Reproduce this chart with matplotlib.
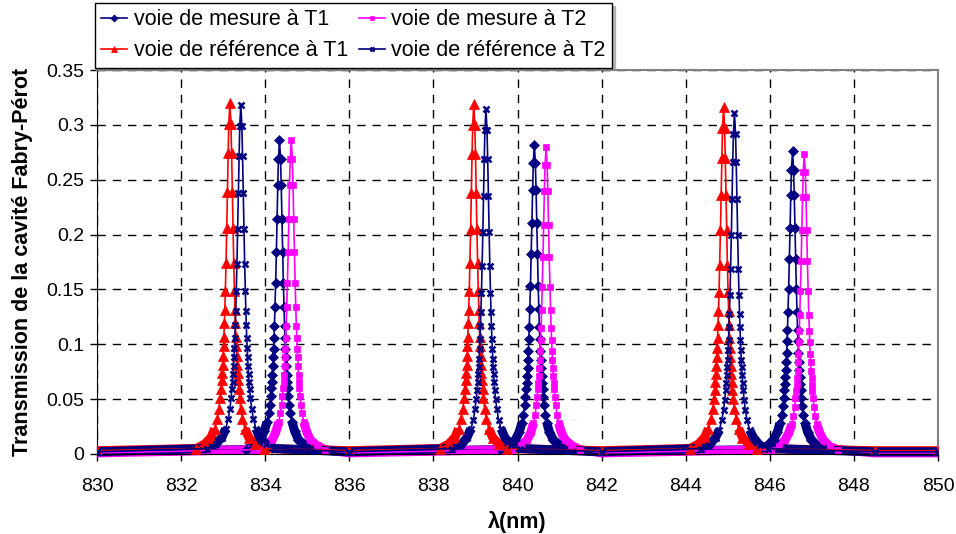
import matplotlib
matplotlib.use("Agg")
import matplotlib.pyplot as plt
import numpy as np
from matplotlib.ticker import FuncFormatter

plt.rcParams["font.family"] = ["Liberation Sans", "DejaVu Sans"]

OFFSETS = [0.0, 0.025, 0.041, 0.058, 0.074, 0.092, 0.107, 0.12, 0.13, 0.141, 0.151, 0.161,
           0.172, 0.183, 0.195, 0.21, 0.23, 0.26, 0.3, 0.36, 0.45, 0.6, 0.8]

# flat regions between resonances
BASE_X = [830.0, 836.0, 842.0, 848.5, 850.0]

# voie de mesure a T1 (navy diamonds): centre -> tail, mirrored on both sides
MES_T1_CENTERS = [834.34, 840.40, 846.54]
MES_T1_PEAKS = [
    [0.286, 0.269, 0.245, 0.214, 0.184, 0.156, 0.134, 0.117, 0.106, 0.096, 0.088, 0.080,
     0.072, 0.066, 0.060, 0.053, 0.045, 0.037, 0.029, 0.021, 0.013, 0.008, 0.004],
    [0.282, 0.265, 0.241, 0.211, 0.182, 0.153, 0.132, 0.116, 0.105, 0.094, 0.086, 0.078,
     0.071, 0.065, 0.059, 0.052, 0.045, 0.036, 0.028, 0.020, 0.013, 0.008, 0.004],
    [0.276, 0.259, 0.236, 0.206, 0.178, 0.150, 0.129, 0.113, 0.103, 0.092, 0.084, 0.077,
     0.070, 0.064, 0.058, 0.051, 0.044, 0.036, 0.028, 0.020, 0.013, 0.007, 0.004],
]
MES_T1_BASE = [0.002, 0.002, 0.002, 0.002, 0.002]

# voie de mesure a T2 (magenta squares)
MES_T2_CENTERS = [834.62, 840.68, 846.82]
MES_T2_PEAKS = [
    [0.286, 0.269, 0.245, 0.214, 0.184, 0.156, 0.134, 0.117, 0.106, 0.096, 0.088, 0.080,
     0.072, 0.066, 0.060, 0.053, 0.045, 0.037, 0.029, 0.021, 0.013, 0.008, 0.004],
    [0.280, 0.263, 0.240, 0.209, 0.180, 0.152, 0.131, 0.115, 0.104, 0.094, 0.086, 0.078,
     0.071, 0.065, 0.059, 0.052, 0.045, 0.036, 0.028, 0.020, 0.013, 0.008, 0.004],
    [0.273, 0.257, 0.234, 0.204, 0.176, 0.149, 0.127, 0.112, 0.102, 0.091, 0.084, 0.076,
     0.069, 0.063, 0.057, 0.051, 0.043, 0.035, 0.027, 0.020, 0.013, 0.007, 0.004],
]
MES_T2_BASE = [0.001, 0.001, 0.001, 0.001, 0.001]

# voie de reference a T1 (red triangles)
REF_T1_CENTERS = [833.16, 838.96, 844.90]
REF_T1_PEAKS = [
    [0.320, 0.301, 0.274, 0.239, 0.206, 0.174, 0.149, 0.131, 0.119, 0.107, 0.098, 0.089,
     0.081, 0.074, 0.067, 0.059, 0.051, 0.041, 0.032, 0.023, 0.015, 0.009, 0.005],
    [0.319, 0.300, 0.273, 0.238, 0.205, 0.174, 0.149, 0.131, 0.119, 0.107, 0.098, 0.089,
     0.081, 0.074, 0.067, 0.059, 0.051, 0.041, 0.032, 0.023, 0.015, 0.009, 0.005],
    [0.316, 0.297, 0.270, 0.236, 0.204, 0.172, 0.148, 0.130, 0.118, 0.106, 0.097, 0.088,
     0.080, 0.073, 0.066, 0.058, 0.050, 0.041, 0.032, 0.023, 0.015, 0.009, 0.005],
]
REF_T1_BASE = [0.003, 0.003, 0.003, 0.003, 0.003]

# voie de reference a T2 (navy crosses)
REF_T2_CENTERS = [833.42, 839.25, 845.16]
REF_T2_PEAKS = [
    [0.318, 0.299, 0.272, 0.238, 0.205, 0.173, 0.149, 0.130, 0.118, 0.106, 0.097, 0.088,
     0.080, 0.073, 0.066, 0.059, 0.051, 0.041, 0.032, 0.023, 0.015, 0.009, 0.005],
    [0.314, 0.295, 0.269, 0.235, 0.202, 0.171, 0.147, 0.129, 0.117, 0.105, 0.096, 0.087,
     0.079, 0.073, 0.066, 0.058, 0.050, 0.041, 0.031, 0.023, 0.015, 0.008, 0.005],
    [0.311, 0.292, 0.266, 0.232, 0.200, 0.169, 0.145, 0.128, 0.116, 0.104, 0.095, 0.086,
     0.079, 0.072, 0.065, 0.058, 0.049, 0.040, 0.031, 0.022, 0.015, 0.008, 0.005],
]
REF_T2_BASE = [0.002, 0.002, 0.002, 0.002, 0.002]

X_TICKS = [830, 832, 834, 836, 838, 840, 842, 844, 846, 848, 850]
Y_TICKS = [0, 0.05, 0.1, 0.15, 0.2, 0.25, 0.3, 0.35]


def build_series(centers, peaks, base):
    xs = list(BASE_X)
    ys = list(base)
    for c, half in zip(centers, peaks):
        xs += [c - o for o in OFFSETS[1:]] + [c + o for o in OFFSETS]
        ys += list(half[1:]) + list(half)
    xs = np.array(xs)
    ys = np.array(ys)
    order = np.argsort(xs)
    return xs[order], ys[order]


SERIES = [
    ("voie de mesure à T1", MES_T1_CENTERS, MES_T1_PEAKS, MES_T1_BASE,
     dict(color="#000080", marker="D", ms=5.5, mew=0.5)),
    ("voie de mesure à T2", MES_T2_CENTERS, MES_T2_PEAKS, MES_T2_BASE,
     dict(color="#FF00FF", marker="s", ms=5, mew=0.5)),
    ("voie de référence à T1", REF_T1_CENTERS, REF_T1_PEAKS, REF_T1_BASE,
     dict(color="#FF0000", marker="^", ms=7.5, mew=0.5)),
    ("voie de référence à T2", REF_T2_CENTERS, REF_T2_PEAKS, REF_T2_BASE,
     dict(color="#000080", marker="x", ms=5, mew=1.8)),
]


def main() -> None:
    fig = plt.figure(figsize=(9.56, 5.34), dpi=100)
    ax = fig.add_axes([97 / 956, 80 / 534, 841 / 956, 384 / 534])

    handles = []
    for label, centers, peaks, base, style in SERIES:
        x, y = build_series(centers, peaks, base)
        low = np.where(y < 0.03, y, np.nan)
        ax.plot(x, low, color=style["color"], lw=6.5, solid_capstyle="butt",
                zorder=2, clip_on=False)
        (h,) = ax.plot(x, y, lw=1.2, label=label, zorder=3, **style)
        handles.append(h)

    ax.set_xlim(830, 850)
    ax.set_ylim(0, 0.35)
    ax.set_xticks(X_TICKS)
    ax.set_yticks(Y_TICKS)
    ax.yaxis.set_major_formatter(FuncFormatter(lambda v, p: f"{v:g}"))
    ax.tick_params(direction="out", length=5, labelsize=14, width=1, color="black")
    ax.tick_params(axis="y", pad=4)
    ax.tick_params(axis="x", pad=12)
    ax.grid(True, color="black", linestyle=(0, (6, 5)), linewidth=1)
    ax.set_axisbelow(True)
    for side in ("top", "right"):
        ax.spines[side].set_color("#808080")
        ax.spines[side].set_linewidth(1.5)
    for side in ("left", "bottom"):
        ax.spines[side].set_color("black")

    ax.set_xlabel("λ(nm)", fontsize=15.5, fontweight="bold", labelpad=12)
    ax.set_ylabel("Transmission de la cavité Fabry-Pérot", fontsize=15.5, fontweight="bold", labelpad=10)

    order = [handles[0], handles[2], handles[1], handles[3]]
    leg = fig.legend(order, [h.get_label() for h in order], loc="upper left",
                     bbox_to_anchor=(95 / 956, 1 - 3 / 534), ncol=2, fontsize=15.5,
                     frameon=True, fancybox=False, shadow={"color": "0.5"},
                     handlelength=1.2, handletextpad=0.3, columnspacing=0.5,
                     borderpad=0.3, labelspacing=0.45, markerscale=0.65,
                     borderaxespad=0)
    leg.get_frame().set_edgecolor("black")
    leg.get_frame().set_linewidth(1)

    fig.savefig("out.png", dpi=100)
    plt.close(fig)


if __name__ == "__main__":
    main()
